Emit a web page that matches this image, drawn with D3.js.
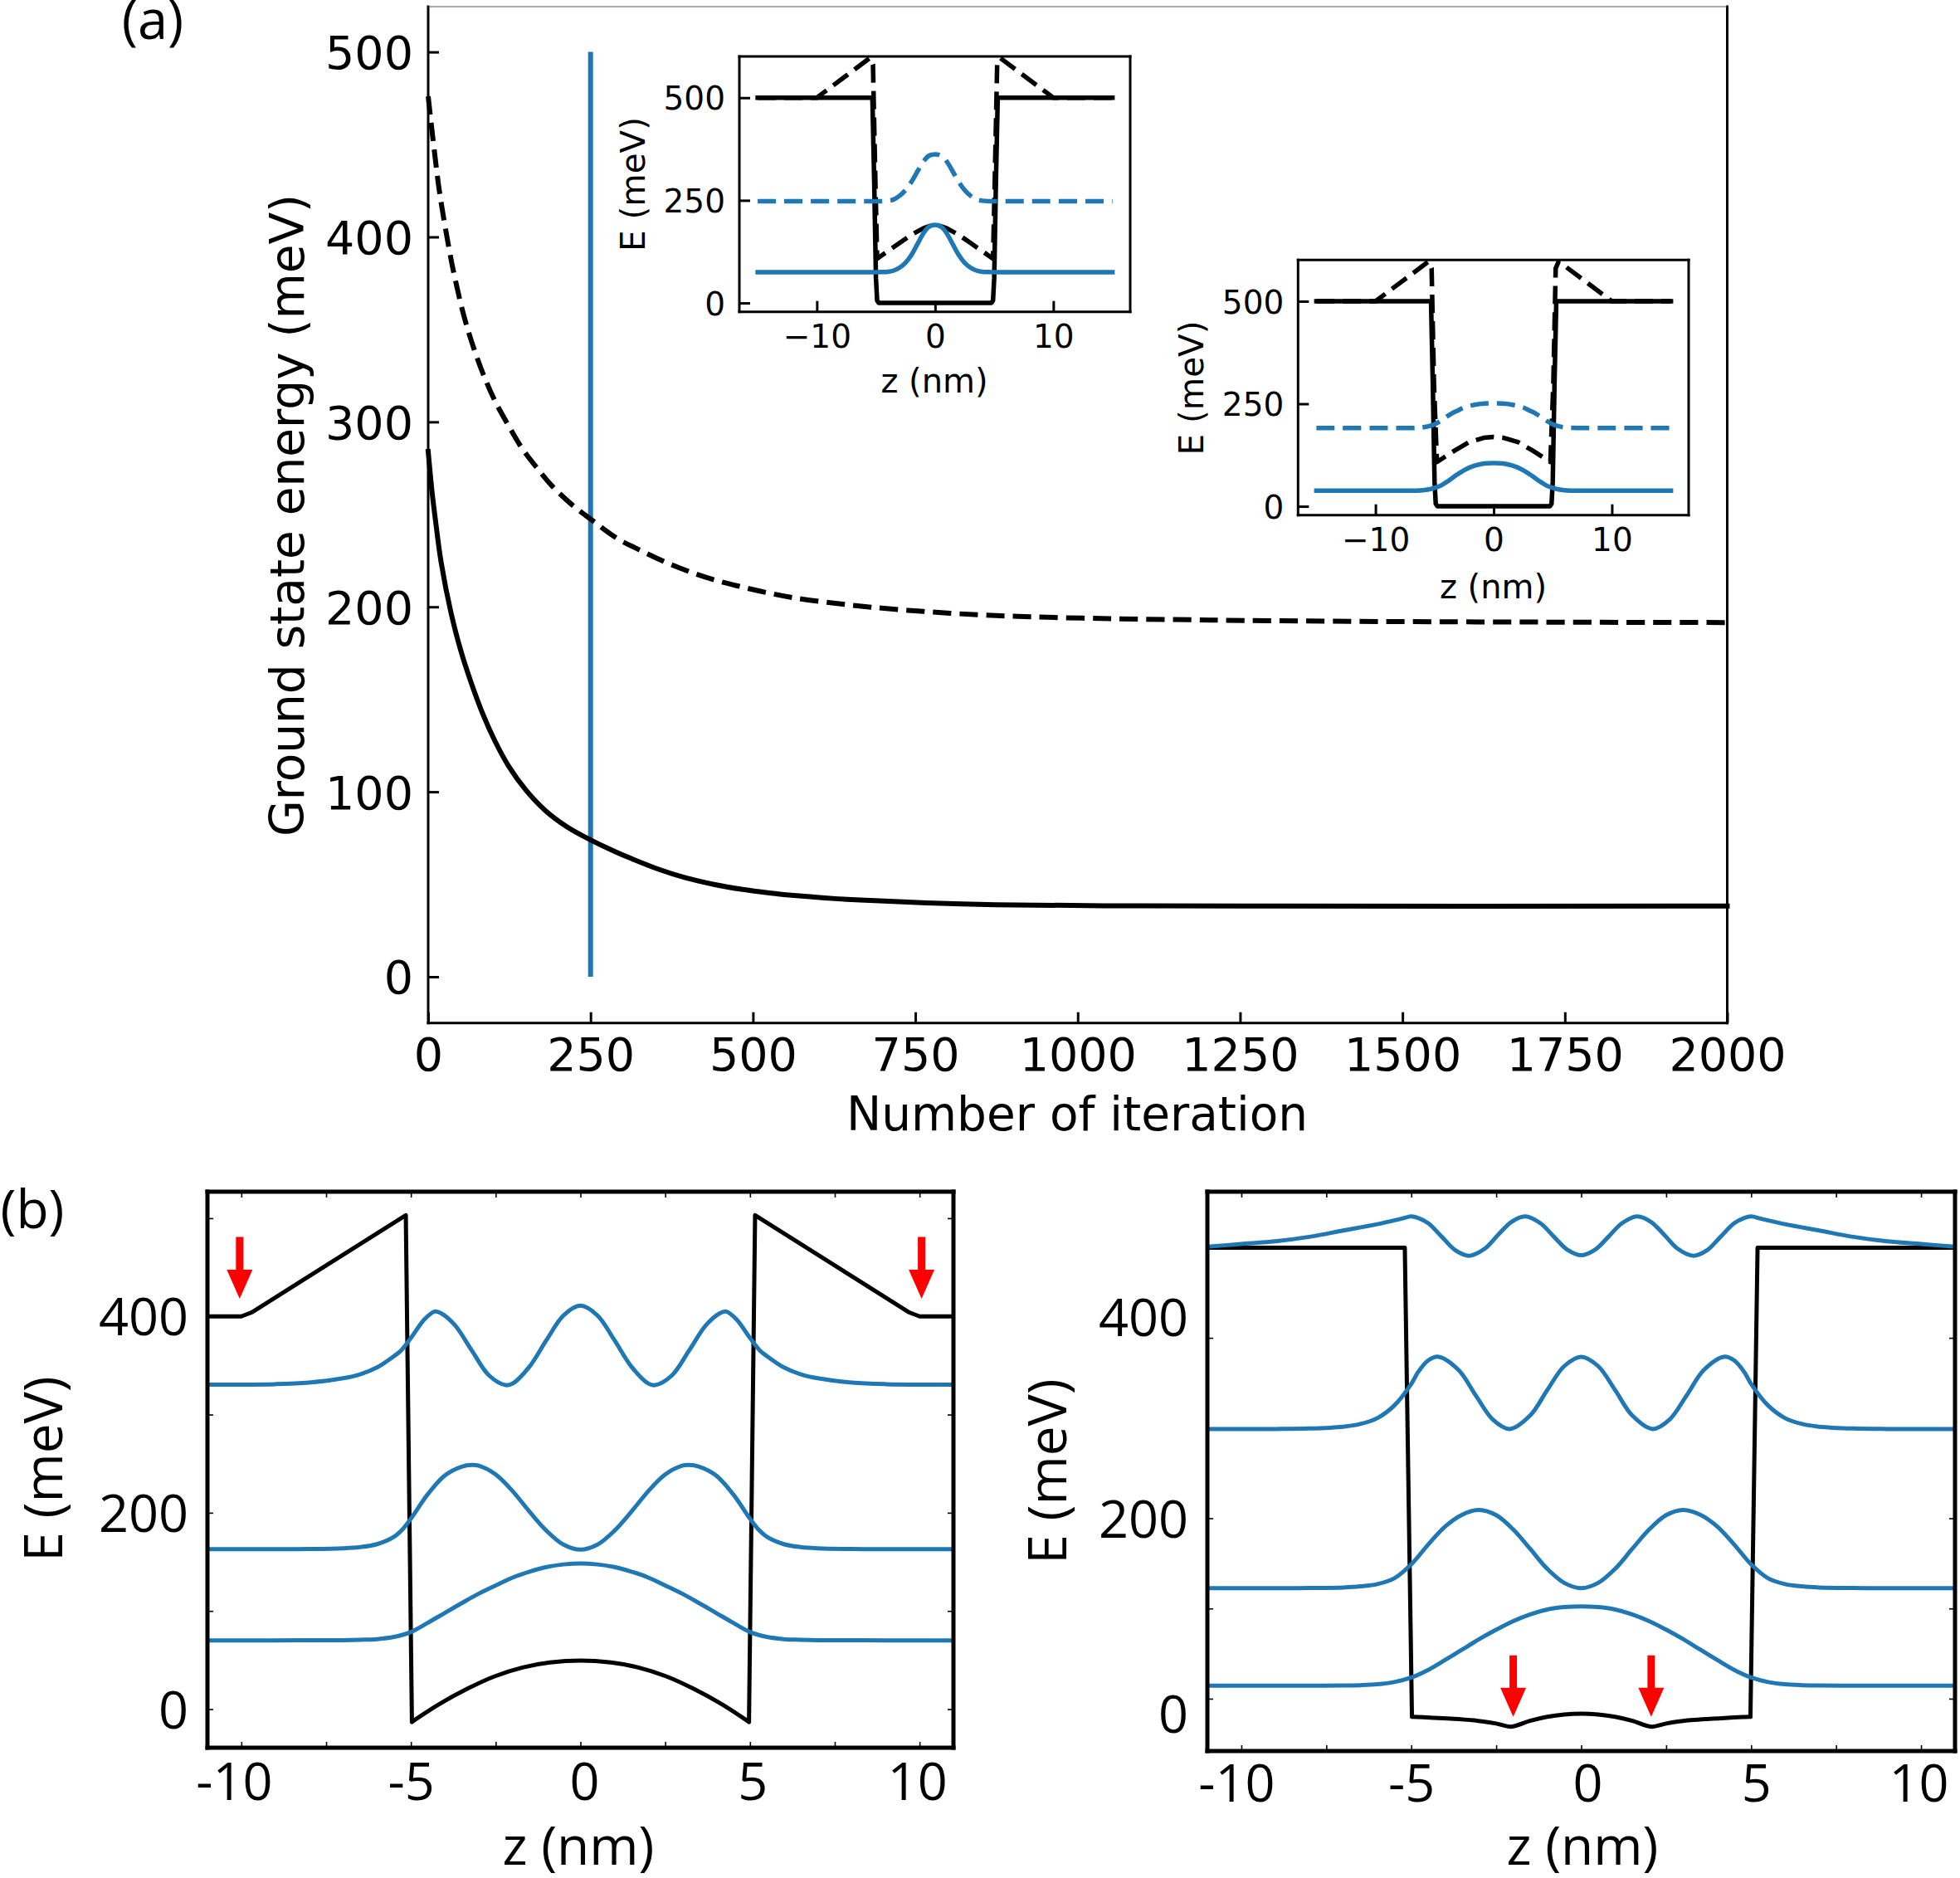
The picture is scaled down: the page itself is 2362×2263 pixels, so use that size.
<!DOCTYPE html>
<html>
<head>
<meta charset="utf-8">
<script src="https://cdn.jsdelivr.net/npm/d3@7"></script>
<style>
  html, body { margin: 0; padding: 0; background: #fff; }
  svg { display: block; }
</style>
</head>
<body>
<svg id="chart" width="2362" height="2263"></svg>
<script>
const BLUE = "#1f77b4";
const MPL_FONT = "'DejaVu Sans'";
const PANEL_FONT = "'Open Sans'";
const SMOOTH = d3.curveCatmullRom.alpha(0.5);

// (a) ground state energy vs iteration, pairs of [iteration, meV]
const iterGround = [[0,284],[6,262],[11.5,246],[20,224],[35,197],[50,176.6],[65,160.2],[84,142.2],[103,127.3],[124,113.8],[150,101.1],[180,90],[214,81],[250,74],[290,67.3],[312,64],[354,58.2],[397,53.4],[440,49.9],[482,47.3],[525,45.3],[567,43.8],[610,42.6],[652,41.7],[695,41],[767,39.9],[874,38.9],[1044,38.4],[1257,38.2],[2000,38.2]];
const iterExcited = [[0,476],[9,448],[18,423],[33,392],[41,378],[56,356],[71,339],[86,324.7],[103,311.2],[124,297.8],[143,286.5],[167,275.3],[192,264.9],[224,254.4],[252,246.9],[290,237.2],[327,230.5],[365,224.2],[403,218.9],[442,214.4],[480,211],[520,207.8],[561,205],[618,202.3],[682,199.8],[763,197.5],[846,195.7],[927,194.6],[1050,193.6],[1172,193],[1255,192.6],[1500,192],[2000,191.5]];
const iterMarker = [[250,0],[250,500]];
const iterTicks = [0,250,500,750,1000,1250,1500,1750,2000];
const energyTicks = [0,100,200,300,400,500];

// curves in the insets and in (b) are symmetric in z, only the z<=0 half is listed
const insetTicksX = [-10,0,10];
const insetTicksY = [0,250,500];
const insetWell = [[-15,500],[-5.3,500],[-5.15,300],[-5,60],[-4.9,6],[-4.75,0]];
const inset1Pot = [[-15,500],[-10,500],[-5.5,597],[-5.25,580],[-5.05,300],[-4.9,108],[-4,126],[-3,146],[-2,166],[-1,182],[-0.5,187],[0,189]];
const inset1Psi = [[-15,75],[-7,75],[-5,75],[-4.5,75.3],[-4,76],[-3.5,79],[-3,86],[-2.5,98],[-2,117],[-1.5,143],[-1,169],[-0.5,186],[0,190]];
const inset1PsiHigh = [[-15,248],[-7,248],[-4.5,248],[-4,249],[-3.5,252],[-3,261],[-2.5,275],[-2,295],[-1.5,320],[-1,344],[-0.5,359],[0,362]];
const inset2Pot = [[-15,500],[-10,500],[-5.5,597],[-5.25,580],[-5.05,300],[-4.8,108],[-3.35,135],[-2.1,156],[-0.85,167],[0,169]];
const inset2Psi = [[-15,38],[-8,38],[-6.5,38.2],[-6,39],[-5.5,41],[-5,45],[-4.5,50],[-4,59],[-3.5,69],[-3,79],[-2.5,88],[-2,95],[-1.5,100],[-1,103.5],[-0.5,105],[0,105.5]];
const inset2PsiHigh = [[-15,191],[-8,191],[-6.5,191.2],[-6,192.5],[-5.5,195],[-5,200],[-4.5,208],[-4,218],[-3.5,227],[-3,234],[-2.5,241],[-2,245],[-1.5,248],[-1,250],[0,251]];

// (b) left
const zTicks = [-10,-7.5,-5,-2.5,0,2.5,5,7.5,10];
const zLabels = [-10,-5,0,5,10];
const bTicksY = [0,100,200,300,400,500];
const bLabelsY = [0,200,400];
const leftBarrier = [[-11,400],[-10,400],[-9.7,404],[-5.15,503],[-4.97,-13]];
const leftWell = [[-4.97,-13],[-4.16,5.2],[-3.34,20.7],[-2.53,33.4],[-1.71,42.4],[-0.9,47.5],[0,49.5]];
const leftStates = [
  [[-11,70],[-9,70],[-8,70.1],[-7,70.2],[-6.5,70.6],[-6,71.3],[-5.5,73.5],[-5,78.5],[-4.5,88],[-4,98],[-3.5,108],[-3,117.6],[-2.5,126],[-2,134],[-1.5,140],[-1,144.7],[-0.5,147.4],[0,148.4]],
  [[-11,163],[-9,163],[-8,163.1],[-7,163.8],[-6.5,165],[-6,168],[-5.5,175.5],[-5.25,183],[-5,194],[-4.5,219],[-4,238],[-3.5,247],[-3.2,248.7],[-3,247.9],[-2.5,239],[-2,222],[-1.5,201],[-1,181.6],[-0.5,167.5],[0,162.4]],
  [[-11,330.5],[-9,331],[-8,332.6],[-7,337],[-6.5,341],[-6,348],[-5.5,359.5],[-5.3,365],[-5,378],[-4.6,397],[-4.3,405],[-4.1,403],[-3.7,391],[-3.2,365],[-2.7,340],[-2.2,330],[-2,331.6],[-1.5,349],[-1,376],[-0.5,401],[0,411]]
];
const leftArrows = [[-10.05,481,418],[10.06,481,418]];

// (b) right
const rightBarrier = [[-11,500],[-5.19,500],[-4.98,-20]];
const rightWell = [[-4.98,-20],[-3.14,-24],[-2.5,-27.5],[-2.06,-31],[-1.51,-24.5],[-1,-20],[-0.5,-17.5],[0,-16.7]];
const rightStates = [
  [[-11,14.4],[-9,14.4],[-8,14.4],[-7,14.6],[-6.5,15],[-6,16],[-5.5,18.5],[-5,23.5],[-4.5,32],[-4,43],[-3.5,54.5],[-3,66],[-2.5,76.5],[-2,86],[-1.5,93.5],[-1,98.8],[-0.5,101.5],[0,102.4]],
  [[-11,122.6],[-9,122.6],[-8,122.7],[-7,123.3],[-6.5,124.5],[-6,127],[-5.5,133.5],[-5,149],[-4.5,171],[-4,191],[-3.5,204],[-3,209.3],[-2.5,203.5],[-2,187.6],[-1.5,166],[-1,144],[-0.5,128.4],[0,122.6]],
  [[-11,299],[-9,299],[-8,299.5],[-7,301.5],[-6.5,304.5],[-6,311],[-5.5,325],[-5,349],[-4.8,362],[-4.5,375],[-4.2,379],[-3.6,364],[-3.1,336],[-2.6,309.4],[-2.1,299],[-1.5,314],[-1,342],[-0.5,368.6],[0,379]],
  [[-11,501],[-10,504],[-9,507],[-8,512],[-7,519],[-6,526],[-5.3,532],[-5,534.6],[-4.8,533],[-4.5,527],[-4.1,512],[-3.7,497],[-3.3,491],[-2.85,498.5],[-2.45,514],[-2.05,528.6],[-1.65,534.6],[-1.2,527],[-0.8,512],[-0.4,497.5],[0,491.6]]
];
const rightArrows = [[-2,48,-20],[2.06,48,-20]];

const svg = d3.select("#chart");

function sym(half) {
  let rest = half.slice().reverse().filter(d => d[0] !== 0).map(d => [-d[0], d[1]]);
  return half.concat(rest);
}

// plain frame + inward ticks, returns scales
function frame(o) {
  let x = d3.scaleLinear().domain(o.xDomain).range([o.left, o.right]);
  let y = d3.scaleLinear().domain(o.yDomain).range([o.bottom, o.top]);
  let g = svg.append("g");

  let fmtX = o.fmtX || (d => String(d).replace("-", "\u2212"));
  let fmtY = o.fmtY || (d => d);
  let ax = d3.axisBottom(x).tickValues(o.xTicks).tickSize(-o.tickLen).tickPadding(o.padX).tickFormat(fmtX);
  let ay = d3.axisLeft(y).tickValues(o.yTicks).tickSize(-o.tickLen).tickPadding(o.padY).tickFormat(fmtY);
  let gx = g.append("g").attr("transform", `translate(0,${o.bottom})`).call(ax);
  let gy = g.append("g").attr("transform", `translate(${o.left},0)`).call(ay);
  if (o.mirror) {
    g.append("g").attr("transform", `translate(0,${o.top})`)
      .call(d3.axisTop(x).tickValues(o.xTicks).tickSize(-o.tickLen).tickFormat(""));
    g.append("g").attr("transform", `translate(${o.right},0)`)
      .call(d3.axisRight(y).tickValues(o.yTicks).tickSize(-o.tickLen).tickFormat(""));
  }
  g.selectAll(".domain").remove();
  g.selectAll(".tick line").attr("stroke", "#000").attr("stroke-width", o.tickWidth);
  g.selectAll("text").attr("font-family", o.font).attr("font-size", o.fontSize).attr("fill", "#000");
  g.selectAll("text").filter(function() { return this.textContent === ""; }).remove();
  gy.selectAll("text").attr("dy", "0.36em");
  // the labels of (b) do not sit exactly over their ticks in the original
  if (o.nudgeX) gx.selectAll("text").filter(d => d in o.nudgeX).attr("dx", d => o.nudgeX[d]);
  if (o.nudgeY) gy.selectAll("text").filter(d => d in o.nudgeY).attr("y", d => o.nudgeY[d]);

  let c = "clip" + (frame.n = (frame.n || 0) + 1);
  svg.append("clipPath").attr("id", c).append("rect")
    .attr("x", o.left).attr("y", o.top).attr("width", o.right - o.left).attr("height", o.bottom - o.top);

  return {x, y, g, clip: c, spines() {
    o.sides.forEach(s => {
      let a = s === "l" ? [o.left, o.top, o.left, o.bottom] : s === "r" ? [o.right, o.top, o.right, o.bottom]
        : s === "t" ? [o.left, o.top, o.right, o.top] : [o.left, o.bottom, o.right, o.bottom];
      svg.append("line").attr("x1", a[0]).attr("y1", a[1]).attr("x2", a[2]).attr("y2", a[3])
        .attr("stroke", "#000").attr("stroke-width", o.spineWidth).attr("stroke-linecap", "square");
    });
  }};
}

function plot(p, data, color, width, opts) {
  opts = opts || {};
  let line = d3.line().x(d => p.x(d[0])).y(d => p.y(d[1])).curve(opts.curve || SMOOTH);
  let path = svg.append("path").attr("d", line(data)).attr("fill", "none")
    .attr("stroke", color).attr("stroke-width", width).attr("stroke-linejoin", "round")
    .attr("stroke-linecap", opts.cap || "square");
  if (opts.dashed) path.attr("stroke-dasharray", opts.dash || "22 10").attr("stroke-linecap", "butt");
  if (opts.clip) path.attr("clip-path", `url(#${p.clip})`);
}

function label(txt, x, y, size, font, rotate) {
  let t = svg.append("text").text(txt).attr("font-size", size).attr("font-family", font)
    .attr("text-anchor", "middle").attr("fill", "#000");
  if (rotate) t.attr("transform", `translate(${x},${y}) rotate(-90)`);
  else t.attr("x", x).attr("y", y);
  return t;
}

// arrows are [z, from, to] in data units, head size stays in pixels
function arrow(p, a) {
  let cx = p.x(a[0]), y0 = p.y(a[1]), y1 = p.y(a[2]);
  svg.append("path").attr("fill", "#ff0000")
    .attr("d", `M${cx-4.5},${y0}L${cx+4.5},${y0}L${cx+4.5},${y1-35}L${cx+15.5},${y1-35}L${cx},${y1}L${cx-15.5},${y1-35}L${cx-4.5},${y1-35}Z`);
}

// ---- (a) main
let main = frame({left: 516, right: 2081.5, top: 8, bottom: 1232.7, xDomain: [0,2000], yDomain: [-25,524.5],
  xTicks: iterTicks, yTicks: energyTicks, tickLen: 13, tickWidth: 3, padX: 18, padY: 18,
  font: MPL_FONT, fontSize: 55.5, sides: ["b","l","r"], spineWidth: 3});
plot(main, iterMarker, BLUE, 6, {curve: d3.curveLinear, cap: "butt"});
plot(main, iterGround, "#000", 6);
plot(main, iterExcited, "#000", 6, {dashed: true, dash: "22.1 10.05"});
main.spines();
svg.append("line").attr("x1", 516).attr("y1", 8).attr("x2", 2081.5).attr("y2", 8).attr("stroke", "#555").attr("stroke-width", 1);
label("Number of iteration", 1298, 1362, 56.5, MPL_FONT);
label("Ground state energy (meV)", 366, 621, 56.5, MPL_FONT, true);
label("(a)", 184, 47, 65, PANEL_FONT);

// ---- insets
function inset(left, right, top, bottom, pot, psi, psiHigh, labelBase, labelMid, xLabelY, xMid) {
  let p = frame({left, right, top, bottom, xDomain: [-16.55,16.5], yDomain: [-21.5,600.5],
    xTicks: insetTicksX, yTicks: insetTicksY, tickLen: 13, tickWidth: 3, padX: 16, padY: 17,
    font: MPL_FONT, fontSize: 39, sides: ["l","r","t","b"], spineWidth: 3});
  plot(p, sym(insetWell), "#000", 5.5, {curve: d3.curveLinear});
  plot(p, sym(pot), "#000", 5.5, {dashed: true, curve: d3.curveLinear});
  plot(p, sym(psiHigh), BLUE, 5.5, {dashed: true});
  plot(p, sym(psi), BLUE, 5.5);
  p.spines();
  label("E (meV)", labelBase, labelMid, 40.5, MPL_FONT, true);
  label("z (nm)", xMid, xLabelY, 40, MPL_FONT);
}
inset(891, 1362, 68, 375.7, inset1Pot, inset1Psi, inset1PsiHigh, 777, 222, 473, 1126);
inset(1564.3, 2035, 313.3, 620.7, inset2Pot, inset2Psi, inset2PsiHigh, 1450, 467.5, 720.7, 1799.5);

// ---- (b) panels
function bPanel(o) {
  let p = frame({left: o.left, right: o.right, top: 1436, bottom: o.bottom, xDomain: [-11,11], yDomain: o.yDomain,
    xTicks: zTicks, yTicks: bTicksY, tickLen: 7, tickWidth: 1.6, padX: o.padX, padY: 23,
    fmtX: d => zLabels.includes(d) ? String(d) : "", fmtY: d => bLabelsY.includes(d) ? d : "",
    nudgeX: o.nudgeX, nudgeY: o.nudgeY,
    font: PANEL_FONT, fontSize: 63, sides: ["l","r","t","b"], spineWidth: 5, mirror: true});
  // barrier pieces stay straight, only the well floor is smoothed
  plot(p, o.barrier, "#000", 5, {curve: d3.curveLinear, cap: "round", clip: true});
  plot(p, o.barrier.map(d => [-d[0], d[1]]), "#000", 5, {curve: d3.curveLinear, cap: "round", clip: true});
  plot(p, sym(o.well), "#000", 5, {cap: "round", clip: true});
  o.states.forEach(s => plot(p, sym(s), BLUE, 5, {cap: "butt", clip: true}));
  o.arrows.forEach(a => arrow(p, a));
  p.spines();
  label("E (meV)", o.baseX, o.midY, 64, PANEL_FONT, true);
  label("z (nm)", o.zMid, 2247, 64, PANEL_FONT);
}
bPanel({left: 250, right: 1149, bottom: 2106, yDomain: [-39.3,527], padX: 18,
  barrier: leftBarrier, well: leftWell, states: leftStates, arrows: leftArrows,
  nudgeX: {"-10": -9, "0": 4.5, "5": 3, "10": -3}, baseX: 75, midY: 1770, zMid: 697});
bPanel({left: 1455, right: 2356, bottom: 2110, yDomain: [-58,562], padX: 16.5,
  barrier: rightBarrier, well: rightWell, states: rightStates, arrows: rightArrows,
  nudgeX: {"-10": -6, "0": 7.5, "5": 6, "10": -3}, nudgeY: {"0": 18, "400": -25},
  baseX: 1285, midY: 1773, zMid: 1907});
label("(b)", 39, 1480, 64, PANEL_FONT);
</script>
</body>
</html>
